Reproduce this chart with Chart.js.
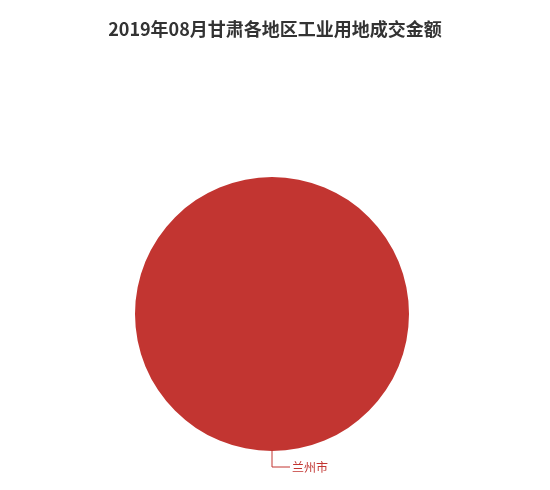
<!DOCTYPE html>
<html>
<head>
<meta charset="utf-8">
<script src="https://cdn.jsdelivr.net/npm/chart.js@4/dist/chart.umd.min.js"></script>
<style>
html,body{margin:0;padding:0;background:#fff;}
#wrap{width:550px;height:490px;position:relative;}
</style>
</head>
<body>
<div id="wrap"><canvas id="c" width="550" height="490"></canvas></div>
<script>
const titleText = '2019年08月甘肃各地区工业用地成交金额';
const categories = ['兰州市'];
const values = [1];
const colors = ['#c23531'];

const overlay = {
  id: 'overlay',
  afterDraw(chart) {
    const ctx = chart.ctx;
    ctx.save();
    ctx.fillStyle = '#333';
    ctx.font = 'bold 18px "Noto Sans CJK SC", sans-serif';
    ctx.textAlign = 'center';
    ctx.textBaseline = 'middle';
    ctx.fillText(titleText, 275, 29);
    const meta = chart.getDatasetMeta(0);
    meta.data.forEach((arc, i) => {
      const p = arc.getProps(['x','y','startAngle','endAngle','outerRadius'], true);
      const mid = (p.startAngle + p.endAngle) / 2;
      const x0 = p.x + Math.cos(mid) * p.outerRadius;
      const y0 = p.y + Math.sin(mid) * p.outerRadius;
      const x1 = p.x + Math.cos(mid) * (p.outerRadius + 16);
      const y1 = p.y + Math.sin(mid) * (p.outerRadius + 16);
      const dir = Math.cos(mid) >= -0.0001 ? 1 : -1;
      const x2 = x1 + dir * 18;
      ctx.strokeStyle = colors[i];
      ctx.lineWidth = 1;
      ctx.beginPath();
      ctx.moveTo(x0, y0);
      ctx.lineTo(x1, y1);
      ctx.lineTo(x2, y1);
      ctx.stroke();
      ctx.fillStyle = colors[i];
      ctx.font = '12px "Noto Sans CJK SC", sans-serif';
      ctx.textAlign = dir > 0 ? 'left' : 'right';
      ctx.textBaseline = 'middle';
      ctx.fillText(categories[i], x2 + dir * 2, y1);
    });
    ctx.restore();
  }
};

new Chart(document.getElementById('c'), {
  type: 'pie',
  data: {
    labels: categories,
    datasets: [{ data: values, backgroundColor: colors, borderWidth: 0 }]
  },
  options: {
    responsive: false,
    animation: false,
    layout: { padding: { left: 135, right: 141, top: 177, bottom: 39 } },
    plugins: { legend: { display: false }, tooltip: { enabled: false }, title: { display: false } }
  },
  plugins: [overlay]
});
</script>
</body>
</html>
